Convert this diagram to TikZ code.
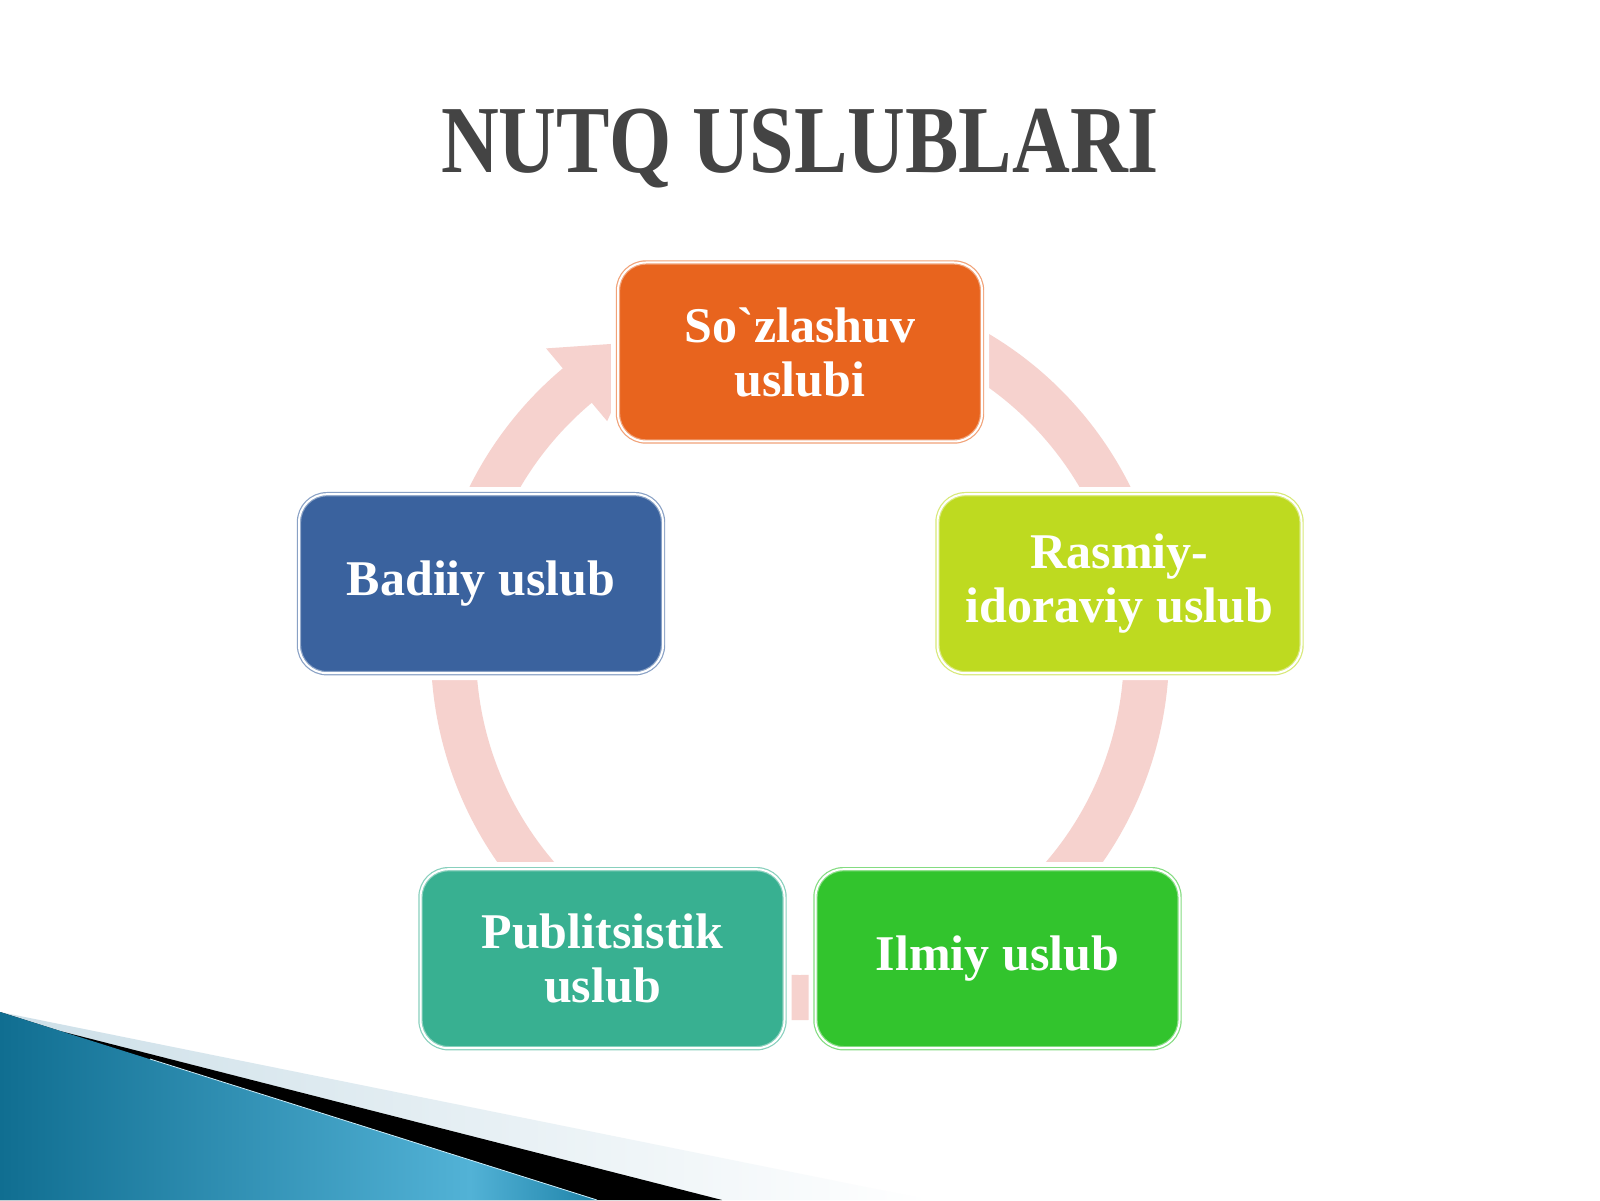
\documentclass[tikz,border=0pt]{standalone}
\usepackage{fontspec}
\setmainfont{Liberation Serif}[Ligatures=TeXOff]
\usetikzlibrary{calc}
\definecolor{cOrange}{RGB}{232,100,30}
\definecolor{cLime}{RGB}{190,218,32}
\definecolor{cGreen}{RGB}{50,196,45}
\definecolor{cTeal}{RGB}{56,176,145}
\definecolor{cBlue}{RGB}{58,98,158}
\definecolor{ringcol}{RGB}{246,210,206}
\definecolor{titlecol}{RGB}{68,68,68}
\definecolor{bandlight}{RGB}{204,223,232}
\definecolor{blueA}{RGB}{16,110,145}
\definecolor{blueB}{RGB}{82,178,214}
\definecolor{blueC}{RGB}{30,130,168}
\begin{document}
\begin{tikzpicture}[x=1pt,y=1pt,
  stylebox/.style={rounded corners=28pt, minimum width=364pt, minimum height=179pt,
    inner sep=0pt, align=center, text=white,
    font=\fontsize{50}{54}\selectfont\bfseries,
    fill=#1, draw=#1!60!white, line width=1.2pt, double=white, double distance=2pt,
    preaction={draw=white, line width=14pt}},
  titlefont/.style={font=\fontsize{80}{90}\selectfont\bfseries}
]
\useasboundingbox[fill=white] (0,0) rectangle (1600,1200);

% bottom-left decoration
\shade[left color=bandlight, right color=white] (0,188) -- (930,0) -- (0,0) -- cycle;
\fill[black] (60,169) -- (722,0) -- (0,0) -- (0,188) -- cycle;
\begin{scope}
  \clip (0,188) -- (597,0) -- (0,0) -- cycle;
  \shade[left color=blueA, right color=blueB] (0,0) rectangle (470,190);
  \shade[left color=blueB, right color=blueC] (470,0) rectangle (600,190);
\end{scope}
\draw[white!80!cyan, line width=0.8pt] (150,141) -- (597,0);

% title
\node[titlefont, anchor=base, text=titlecol] (title) at (800,1027)
  {\scalebox{1}[1.2]{NUTQ USLUBLARI}};

% continuous cycle ring
\coordinate (C) at (800,549);
\fill[ringcol] ($(C)+(70:369)$) arc[start angle=70, end angle=-230, radius=369]
  -- ($(C)+(-230:395)$) -- ($(C)+(-243:347)$) -- ($(C)+(-230:300)$)
  -- ($(C)+(-230:324)$) arc[start angle=-230, end angle=70, radius=324] -- cycle;

% boxes
\node[stylebox=cOrange] (soz) at (800,848) {So`zlashuv\\uslubi};
\node[stylebox=cLime] (rasmiy) at (1119.5,616.3) {Rasmiy-\\idoraviy uslub};
\node[stylebox=cGreen] (ilmiy) at (997.5,241.3) {Ilmiy uslub};
\node[stylebox=cTeal] (publ) at (602.5,241.3) {Publitsistik\\uslub};
\node[stylebox=cBlue] (badiiy) at (481,616.3) {Badiiy uslub};
\end{tikzpicture}
\end{document}
